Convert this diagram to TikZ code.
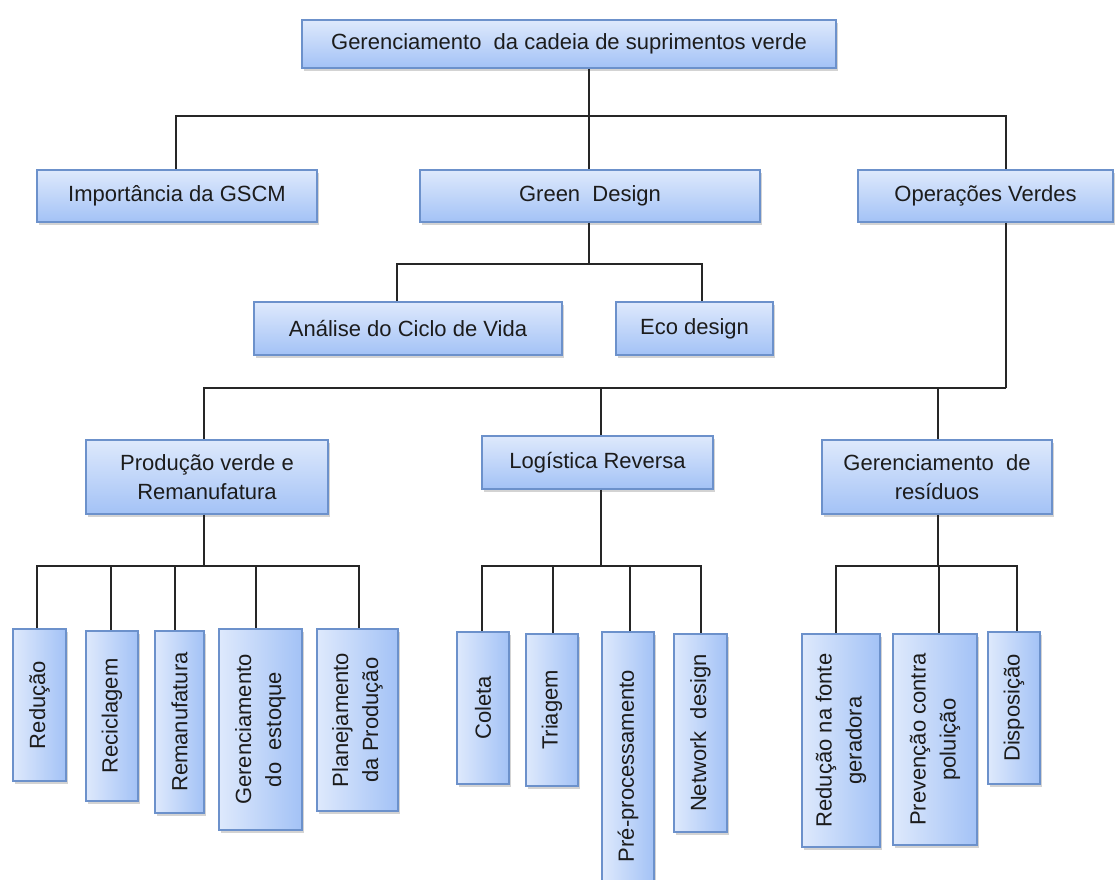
\documentclass[tikz,border=0pt]{standalone}
\usepackage{fontspec}
\setmainfont{Liberation Sans}
\usetikzlibrary{shadows}
\definecolor{bfillA}{HTML}{DEE9FC}
\definecolor{bfillB}{HTML}{A3C2F6}
\definecolor{bdraw}{HTML}{6C91CB}
\definecolor{txt}{HTML}{1C1C1C}
\tikzset{
  boxbase/.style={draw=bdraw, line width=1.3pt, inner sep=0pt, text=txt, align=center,
    font=\fontsize{22}{29}\selectfont,
    drop shadow={opacity=0.35, shadow xshift=2pt, shadow yshift=-3pt}},
  hbox/.style={boxbase, top color=bfillA, bottom color=bfillB},
  vbox/.style={boxbase, left color=bfillA, right color=bfillB},
  vtext/.style={rotate=90, text=txt, align=center, inner sep=0pt, font=\fontsize{22}{30}\selectfont},
  conn/.style={line width=1.4pt, draw=black!85}
}
\begin{document}
\begin{tikzpicture}[x=1pt,y=-1pt]
\useasboundingbox (0,0) rectangle (1115,879);
% level 0
\node[hbox, minimum width=534pt, minimum height=48pt] (top) at (569,44) {Gerenciamento\ \ da cadeia de suprimentos verde};
% level 1
\node[hbox, minimum width=280pt, minimum height=52pt] (imp) at (177,196) {Importância da GSCM};
\node[hbox, minimum width=340pt, minimum height=52pt] (gd) at (590,196) {Green\ \ Design};
\node[hbox, minimum width=255pt, minimum height=52pt] (ops) at (985.5,196) {Operações Verdes};
% green design children
\node[hbox, minimum width=308pt, minimum height=53pt] (acv) at (408,328.5) {Análise do Ciclo de Vida};
\node[hbox, minimum width=157pt, minimum height=53pt] (eco) at (694.5,328.5) {Eco design};
% operations children
\node[hbox, minimum width=242pt, minimum height=74pt] (prod) at (207,477) {Produção verde e\\Remanufatura};
\node[hbox, minimum width=231pt, minimum height=53pt] (log) at (597.5,462.5) {Logística Reversa};
\node[hbox, minimum width=230pt, minimum height=74pt] (ger) at (937,477) {Gerenciamento\ \ de\\resíduos};
% leaves
\node[vbox, minimum width=53pt, minimum height=152pt] (red) at (39.5,705) {};
\node[vtext] at (red) {Redução};
\node[vbox, minimum width=52pt, minimum height=170pt] (rec) at (112,716) {};
\node[vtext] at (rec) {Reciclagem};
\node[vbox, minimum width=49pt, minimum height=182pt] (rem) at (179.5,722) {};
\node[vtext] at (rem) {Remanufatura};
\node[vbox, minimum width=83pt, minimum height=201pt] (gest) at (260.5,729.5) {};
\node[vtext] at (gest) {Gerenciamento\\do\ \ estoque};
\node[vbox, minimum width=81pt, minimum height=182pt] (plan) at (357.5,720) {};
\node[vtext] at (plan) {Planejamento\\da Produção};
\node[vbox, minimum width=52pt, minimum height=152pt] (col) at (483,708) {};
\node[vtext] at (col) {Coleta};
\node[vbox, minimum width=52pt, minimum height=152pt] (tri) at (552,710) {};
\node[vtext] at (tri) {Triagem};
\node[vbox, minimum width=52pt, minimum height=268pt] (pre) at (628,766) {};
\node[vtext] at (pre) {Pré-processamento};
\node[vbox, minimum width=53pt, minimum height=198pt] (net) at (700.5,733) {};
\node[vtext] at (net) {Network\ \ design};
\node[vbox, minimum width=78pt, minimum height=213pt] (rfg) at (841,740.5) {};
\node[vtext] at (rfg) {Redução na fonte\\geradora};
\node[vbox, minimum width=84pt, minimum height=211pt] (prev) at (935,739.5) {};
\node[vtext] at (prev) {Prevenção contra\\poluição};
\node[vbox, minimum width=52pt, minimum height=152pt] (disp) at (1014,708) {};
\node[vtext] at (disp) {Disposição};
% bus coordinates
\coordinate (b1) at (589,116);
\coordinate (b2) at (589,264);
\coordinate (b3) at (1006,388);
\coordinate (b4) at (204,566);
\coordinate (b5) at (601,566);
\coordinate (b6) at (938,566);
% connectors
\draw[conn] (top.south -| b1) -- (b1);
\draw[conn] (b1) -| ([xshift=-1pt]imp.north);
\draw[conn] (b1) -- (gd.north -| b1);
\draw[conn] (b1) -| ([xshift=20.5pt]ops.north);
\draw[conn] (gd.south -| b2) -- (b2);
\draw[conn] (b2) -| ([xshift=-11pt]acv.north);
\draw[conn] (b2) -| ([xshift=7.5pt]eco.north);
\draw[conn] ([xshift=20.5pt]ops.south) -- (b3);
\draw[conn] (b3) -| ([xshift=-3pt]prod.north);
\draw[conn] (b3) -| ([xshift=3.5pt]log.north);
\draw[conn] (b3) -| ([xshift=1pt]ger.north);
\draw[conn] ([xshift=-3pt]prod.south) -- (b4);
\draw[conn] (b4) -| ([xshift=-2.5pt]red.north);
\draw[conn] (b4) -| ([xshift=-1pt]rec.north);
\draw[conn] (b4) -| ([xshift=-4.5pt]rem.north);
\draw[conn] (b4) -| ([xshift=-4.5pt]gest.north);
\draw[conn] (b4) -| ([xshift=1.5pt]plan.north);
\draw[conn] ([xshift=3.5pt]log.south) -- (b5);
\draw[conn] (b5) -| ([xshift=-1pt]col.north);
\draw[conn] (b5) -| ([xshift=1pt]tri.north);
\draw[conn] (b5) -| ([xshift=2pt]pre.north);
\draw[conn] (b5) -| ([xshift=0.5pt]net.north);
\draw[conn] ([xshift=1pt]ger.south) -- (b6);
\draw[conn] (b6) -| ([xshift=-5pt]rfg.north);
\draw[conn] (b6) -| ([xshift=4pt]prev.north);
\draw[conn] (b6) -| ([xshift=3pt]disp.north);
\end{tikzpicture}
\end{document}
